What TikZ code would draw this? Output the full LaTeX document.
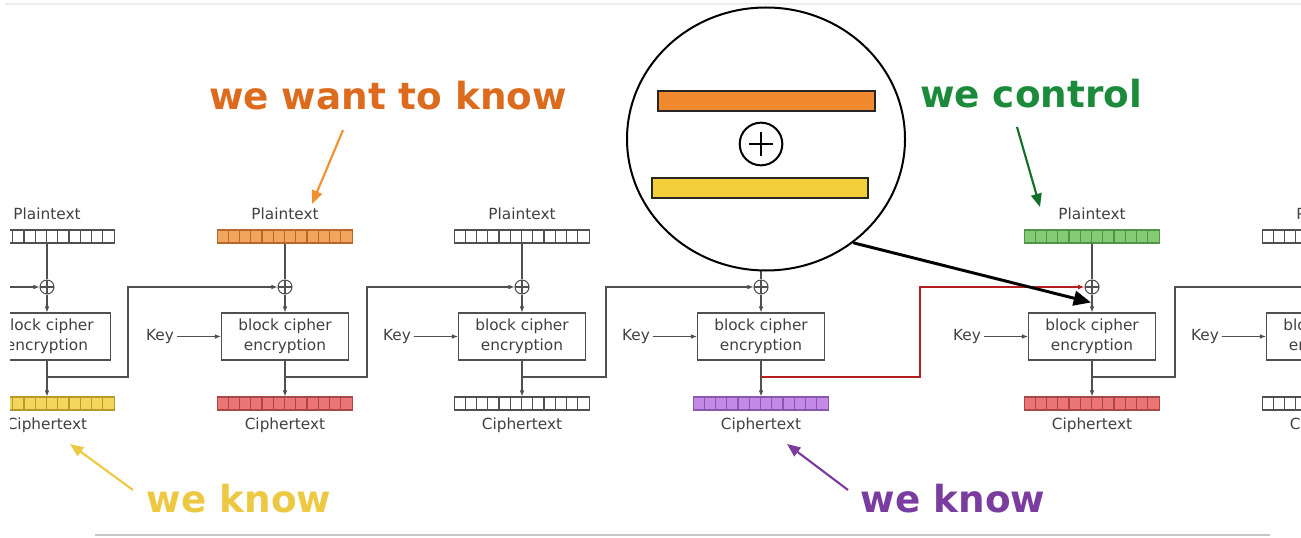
\documentclass[tikz,border=0pt]{standalone}
\usepackage{fontspec}
\setmainfont{DejaVu Sans}
\usetikzlibrary{arrows.meta,shapes.geometric,calc}
\definecolor{lineg}{HTML}{505050}
\definecolor{txtg}{HTML}{404040}
\definecolor{worange}{HTML}{DC6B1E}
\definecolor{aorange}{HTML}{F09030}
\definecolor{wgreen}{HTML}{1B8A3A}
\definecolor{agreen}{HTML}{12702A}
\definecolor{wyellow}{HTML}{EDC843}
\definecolor{wpurple}{HTML}{7A3D9F}
\definecolor{corg}{HTML}{F2A55C}
\definecolor{corgd}{HTML}{B8692A}
\definecolor{cred}{HTML}{EC7676}
\definecolor{credd}{HTML}{A84848}
\definecolor{cyel}{HTML}{F3D65C}
\definecolor{cyeld}{HTML}{B89A2A}
\definecolor{cpur}{HTML}{C58AE8}
\definecolor{cpurd}{HTML}{8A5AAA}
\definecolor{cgrn}{HTML}{86CB74}
\definecolor{cgrnd}{HTML}{4E9446}
\definecolor{morg}{HTML}{F18A2E}
\definecolor{myel}{HTML}{F3D03A}
\definecolor{redline}{HTML}{B52020}
\tikzset{
 ln/.style={draw=lineg, line width=0.8pt},
 arr/.style={ln, -{Latex[length=4.5pt,width=3.5pt]}},
 lbl/.style={text=txtg, font=\fontsize{11.5}{14}\selectfont, inner sep=0pt},
 encbox/.style={draw=lineg, line width=0.8pt, minimum width=95.25pt, minimum height=35.25pt, align=center, text=txtg, font=\fontsize{11.5}{15}\selectfont, inner sep=0pt},
 xorc/.style={circle, draw=lineg, line width=0.8pt, minimum size=10.5pt, inner sep=0pt,
   path picture={\draw[lineg, line width=0.8pt] (path picture bounding box.north) -- (path picture bounding box.south) (path picture bounding box.west) -- (path picture bounding box.east);}},
 barnode/.style={rectangle, minimum width=101.25pt, minimum height=9.75pt, inner sep=0pt, line width=0.8pt},
 head/.style={font=\fontsize{28}{30}\selectfont\bfseries, anchor=base, inner sep=0pt},
 callout/.style={line width=1.6pt, -{Triangle[length=10pt,width=8pt]}},
}
\newcommand\cellbar[5]{%
 \node[barnode, fill=#4, draw=#5] (#1) at (#2,#3) {};
 \foreach \k in {1,...,11}{\draw[#5, line width=0.8pt] ([xshift={\k*8.4375pt}]#1.south west) -- ([xshift={\k*8.4375pt}]#1.north west);}
}
\begin{document}
\begin{tikzpicture}[x=0.75pt, y=-0.75pt]
\useasboundingbox (0,0) rectangle (1301,538);
\draw[black!7, line width=0.8pt] (5,4) -- (1301,4);
\draw[black!22, line width=1.1pt] (95,535) -- (1270,535);

\begin{scope}
\clip (10,0) rectangle (1301,538);
\foreach \i/\cx/\pf/\pd/\cf/\cd in {1/47/white/lineg/cyel/cyeld, 2/285/corg/corgd/cred/credd, 3/522/white/lineg/white/lineg, 4/761/white/lineg/cpur/cpurd, 5/1092/cgrn/cgrnd/cred/credd, 6/1330/white/lineg/white/lineg}{
 \node[lbl] (pl\i) at (\cx,214) {Plaintext};
 \cellbar{pb\i}{\cx}{236.5}{\pf}{\pd}
 \node[xorc] (x\i) at (\cx,287) {};
 \node[encbox] (e\i) at (\cx,336.5) {block cipher\\encryption};
 \cellbar{cb\i}{\cx}{403.5}{\cf}{\cd}
 \node[lbl] (cl\i) at (\cx,425) {Ciphertext};
 \node[lbl] (k\i) at (\cx-125,336.5) {Key};
 \draw[ln] (pb\i) -- (x\i);
 \draw[arr] (x\i) -- (e\i);
 \draw[arr] (e\i) -- (cb\i);
 \draw[arr, shorten <=2pt] (k\i) -- (e\i);
 \coordinate (f\i) at (\cx,377);
}
\coordinate (in1) at (0,287);
\draw[arr] (in1) -- (x1);
\coordinate (t1) at (128,377);
\coordinate (t2) at (367,377);
\coordinate (t3) at (606,377);
\coordinate (t4) at (920,377);
\coordinate (t5) at (1175,377);
\draw[arr] (f1) -- (t1) |- (x2);
\draw[arr] (f2) -- (t2) |- (x3);
\draw[arr] (f3) -- (t3) |- (x4);
\draw[arr] (f5) -- (t5) |- (x6);
\draw[draw=redline, line width=1pt, -{Latex[length=5pt,width=4pt]}] (f4) -- (t4) |- (x5);
\end{scope}

% magnifier
\node[ellipse, draw=black, line width=1.5pt, fill=white, minimum width=208.5pt, minimum height=197.25pt, inner sep=0pt] (mag) at (766,139) {};
\node[rectangle, draw=black!85, fill=morg, line width=1.2pt, minimum width=162.75pt, minimum height=15pt, inner sep=0pt] (mo) at (766.5,101) {};
\node[rectangle, draw=black!85, fill=myel, line width=1.2pt, minimum width=162pt, minimum height=15pt, inner sep=0pt] (my) at (760,188) {};
\node[circle, draw=black, line width=1.5pt, minimum size=32pt, inner sep=0pt] (mx) at (761,144) {};
\draw[black, line width=1.5pt] ([yshift=9pt]mx.center) -- ([yshift=-9pt]mx.center) ([xshift=-9pt]mx.center) -- ([xshift=9pt]mx.center);
\coordinate (bt) at ($(e5.north)+(-1,-10)$);
\draw[black, line width=2.2pt, -{Triangle[length=13pt,width=11pt]}] (mag.-50) -- (bt);

% headings
\node[head, text=worange] (hw) at (388,110) {we want to know};
\node[head, text=wgreen] (hc) at (1031,108) {we control};
\node[head, text=wyellow] (hy) at (239,512) {we know};
\node[head, text=wpurple] (hp) at (953,512) {we know};
\coordinate (oa1) at (343,130); \coordinate (oa2) at (312,204);
\coordinate (ga1) at (1017,127); \coordinate (ga2) at (1040,207);
\coordinate (ya1) at (133,490); \coordinate (ya2) at (70,444);
\coordinate (pa1) at (848,490); \coordinate (pa2) at (787,444);
\draw[callout, aorange] (oa1) -- (oa2);
\draw[callout, agreen] (ga1) -- (ga2);
\draw[callout, wyellow] (ya1) -- (ya2);
\draw[callout, wpurple] (pa1) -- (pa2);
\end{tikzpicture}
\end{document}
